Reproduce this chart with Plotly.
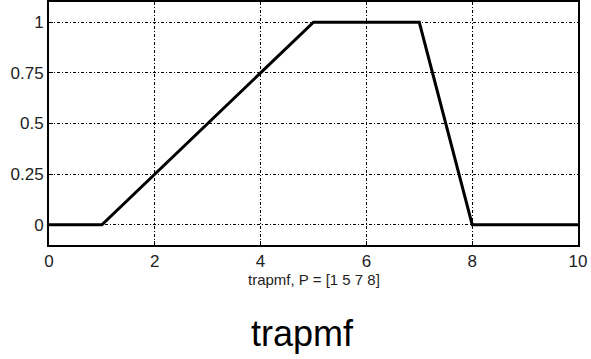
import plotly.graph_objects as go

# trapezoidal membership function, P = [1 5 7 8]
x_vals = [0, 1, 5, 7, 8, 10]
y_vals = [0, 0, 1, 1, 0, 0]
x_ticks = [0, 2, 4, 6, 8, 10]
y_ticks = [0, 0.25, 0.5, 0.75, 1]
y_tick_text = ["0", "0.25", "0.5", "0.75", "1"]

fig = go.Figure()
fig.add_trace(go.Scatter(x=x_vals, y=y_vals, mode="lines",
                         line=dict(color="black", width=3), showlegend=False))

grid = dict(showgrid=True, gridcolor="black", gridwidth=1, griddash="3px,2px,1px,2px",
            showline=True, linecolor="black", linewidth=2, mirror=True,
            ticks="inside", ticklen=4, tickcolor="black", zeroline=False,
            automargin=False,
            tickfont=dict(family="Liberation Sans, Arial", size=17, color="#222"))

fig.update_xaxes(range=[0, 10], tickvals=x_ticks, **grid)
fig.update_yaxes(range=[-0.1, 1.1], tickvals=y_ticks, ticktext=y_tick_text, **grid)

fig.add_annotation(text="trapmf, P = [1 5 7 8]", x=0.5, y=0, xref="paper", yref="paper",
                   yshift=-34, showarrow=False, yanchor="middle",
                   font=dict(family="Liberation Sans, Arial", size=15, color="#222"))
fig.add_annotation(text="trapmf", x=0.48, y=0, xref="paper", yref="paper",
                   yshift=-88, showarrow=False, yanchor="middle",
                   font=dict(family="Liberation Sans, Arial", size=36, color="black"))

fig.update_layout(width=591, height=359, margin=dict(l=49, r=13, t=2, b=114),
                  plot_bgcolor="white", paper_bgcolor="white")

fig.write_html("out.html", config={"displayModeBar": False},
               post_script="document.body.style.margin='0';")
